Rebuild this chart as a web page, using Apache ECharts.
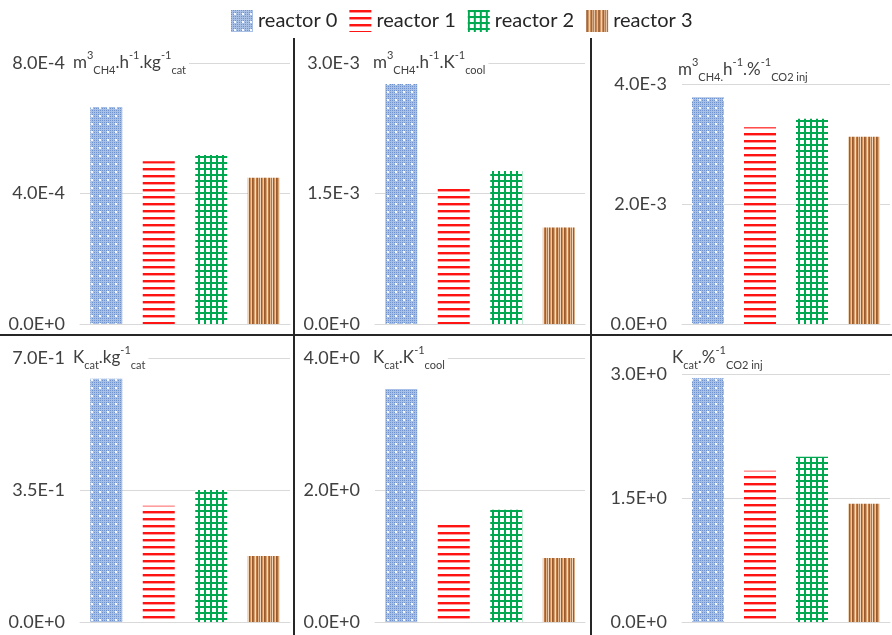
<!DOCTYPE html>
<html>
<head>
<meta charset="utf-8">
<script src="https://cdn.jsdelivr.net/npm/echarts@6/dist/echarts.min.js"></script>
<style>html,body{margin:0;padding:0;background:#fff}#c{width:892px;height:635px}</style>
</head>
<body>
<div id="c"></div>
<script>
// ---- data ----
const categories = ['reactor 0', 'reactor 1', 'reactor 2', 'reactor 3'];
const vCH4perKgCat   = [6.65e-4, 4.99e-4, 5.18e-4, 4.48e-4];
const vCH4perKcool   = [2.76e-3, 1.59e-3, 1.76e-3, 1.11e-3];
const vCH4perCO2     = [3.78e-3, 3.28e-3, 3.42e-3, 3.12e-3];
const vKcatPerKgCat  = [0.645, 0.308, 0.350, 0.175];
const vKcatPerKcool  = [3.53, 1.52, 1.70, 0.97];
const vKcatPerCO2    = [2.95, 1.83, 2.00, 1.43];
const yMax      = [8e-4, 3e-3, 4e-3, 0.7, 4, 3];
const yInterval = [4e-4, 1.5e-3, 2e-3, 0.35, 2, 1.5];
const panelTitles = [
  '{n|m}{sup|3}{sub|CH4}{n|.h}{sup|-1}{n|.kg}{sup|-1}{sub|cat}',
  '{n|m}{sup|3}{sub|CH4}{n|.h}{sup|-1}{n|.K}{sup|-1}{sub|cool}',
  '{n|m}{sup|3}{sub|CH4.}{n|h}{sup|-1}{n|.%}{sup|-1}{sub|CO2 inj}',
  '{n|K}{sub|cat}{n|.kg}{sup|-1}{sub|cat}',
  '{n|K}{sub|cat}{n|.K}{sup|-1}{sub|cool}',
  '{n|K}{sub|cat}{n|.%}{sup|-1}{sub|CO2 inj}'
];
const panelValues = [vCH4perKgCat, vCH4perKcool, vCH4perCO2, vKcatPerKgCat, vKcatPerKcool, vKcatPerCO2];

// ---- layout / style ----
const FONT = 'Lato';
const grids = [
  {left: 80,  top: 63,  width: 210, height: 261},
  {left: 375, top: 63,  width: 210, height: 261},
  {left: 682, top: 84,  width: 208, height: 240},
  {left: 80,  top: 358, width: 210, height: 264},
  {left: 375, top: 358, width: 210, height: 264},
  {left: 682, top: 374, width: 208, height: 248}
];
const titlePos = [
  {left: 71, top: 50}, {left: 371, top: 50}, {left: 676, top: 57},
  {left: 71, top: 345}, {left: 371, top: 345}, {left: 670, top: 345}
];

function tile(w, h, draw) {
  const c = document.createElement('canvas');
  c.width = w; c.height = h;
  draw(c.getContext('2d'));
  return c;
}
const blueTile = tile(8, 8, g => {
  g.fillStyle = '#a9c0e6'; g.fillRect(0, 0, 8, 8);
  g.fillStyle = '#7093cc';
  for (let x = 0; x < 8; x += 2) for (let y = 0; y < 8; y += 2) g.fillRect(x, y, 1, 1);
  g.fillStyle = '#f5f8ff'; g.fillRect(3, 3, 2, 2);
});
const redTile = tile(4, 7, g => {
  g.fillStyle = '#ffffff'; g.fillRect(0, 0, 4, 7);
  g.fillStyle = '#ff1414'; g.fillRect(0, 0, 4, 2);
  g.fillStyle = '#ff9c9c'; g.fillRect(0, 2, 4, 1);
});
const greenTile = tile(6, 6, g => {
  g.fillStyle = '#ffffff'; g.fillRect(0, 0, 6, 6);
  g.fillStyle = '#00a84f'; g.fillRect(0, 0, 6, 2); g.fillRect(0, 0, 2, 6);
});
const brownCols = ['#9a5a2b','#b06a35','#d8a273','#f3dcc4','#c07b44','#a35f2e','#e2b892','#b87440','#f0d5bb','#9e5d2c','#cf935f','#e9c8a6'];
const brownTile = tile(brownCols.length, 4, g => {
  brownCols.forEach((c, i) => { g.fillStyle = c; g.fillRect(i, 0, 1, 4); });
});
const patterns = [blueTile, redTile, greenTile, brownTile].map(t => ({image: t, repeat: 'repeat'}));

function sci(v) {
  if (Math.abs(v) < 1e-15) return '0.0E+0';
  let e = Math.floor(Math.log10(Math.abs(v)) + 1e-9);
  let m = v / Math.pow(10, e);
  if (Math.round(m * 10) / 10 >= 10) { m /= 10; e += 1; }
  return m.toFixed(1) + 'E' + (e >= 0 ? '+' : '-') + Math.abs(e);
}

const rich = {
  n:   {fontFamily: FONT, fontSize: 17, fontWeight: 'normal', color: '#404040', lineHeight: 26, verticalAlign: 'middle'},
  sup: {fontFamily: FONT, fontSize: 11, fontWeight: 'normal', color: '#404040', lineHeight: 18, verticalAlign: 'top'},
  sub: {fontFamily: FONT, fontSize: 11, fontWeight: 'normal', color: '#404040', lineHeight: 15, verticalAlign: 'bottom'}
};

const option = {
  backgroundColor: '#ffffff',
  animation: false,
  legend: {
    data: categories, left: 226, top: 5,
    itemWidth: 22, itemHeight: 22, itemGap: 12, icon: 'rect',
    textStyle: {fontFamily: FONT, fontSize: 20, color: '#262626'}
  },
  title: panelTitles.map((t, i) => ({
    text: t, left: titlePos[i].left, top: titlePos[i].top, padding: [0, 3, 0, 2],
    backgroundColor: '#ffffff',
    textStyle: {fontWeight: 'normal', fontFamily: FONT, rich: rich}
  })),
  grid: grids,
  xAxis: grids.map((g, i) => ({
    type: 'category', gridIndex: i, data: categories,
    axisLabel: {show: false}, axisTick: {show: false},
    axisLine: {lineStyle: {color: '#d9d9d9', width: 1}}
  })),
  yAxis: grids.map((g, i) => ({
    type: 'value', gridIndex: i, min: 0, max: yMax[i], interval: yInterval[i],
    axisLine: {show: false}, axisTick: {show: false},
    splitLine: {lineStyle: {color: '#d9d9d9', width: 1}},
    axisLabel: {formatter: sci, fontFamily: FONT, fontSize: 18, color: '#404040', margin: 15}
  })),
  series: [],
  graphic: [
    {type: 'line', shape: {x1: 294, y1: 38, x2: 294, y2: 635}, style: {stroke: '#262626', lineWidth: 2}, z: 100},
    {type: 'line', shape: {x1: 591, y1: 38, x2: 591, y2: 635}, style: {stroke: '#262626', lineWidth: 2}, z: 100},
    {type: 'line', shape: {x1: 0, y1: 335, x2: 892, y2: 335}, style: {stroke: '#262626', lineWidth: 2}, z: 100}
  ]
};

panelValues.forEach((vals, p) => {
  categories.forEach((name, k) => {
    option.series.push({
      type: 'bar', name: name, xAxisIndex: p, yAxisIndex: p,
      data: categories.map((c, j) => j === k ? vals[k] : '-'),
      barGap: '-100%', barWidth: 32,
      itemStyle: {color: patterns[k]}
    });
  });
});

const chart = echarts.init(document.getElementById('c'), null, {renderer: 'canvas'});
chart.setOption(option);
</script>
</body>
</html>
